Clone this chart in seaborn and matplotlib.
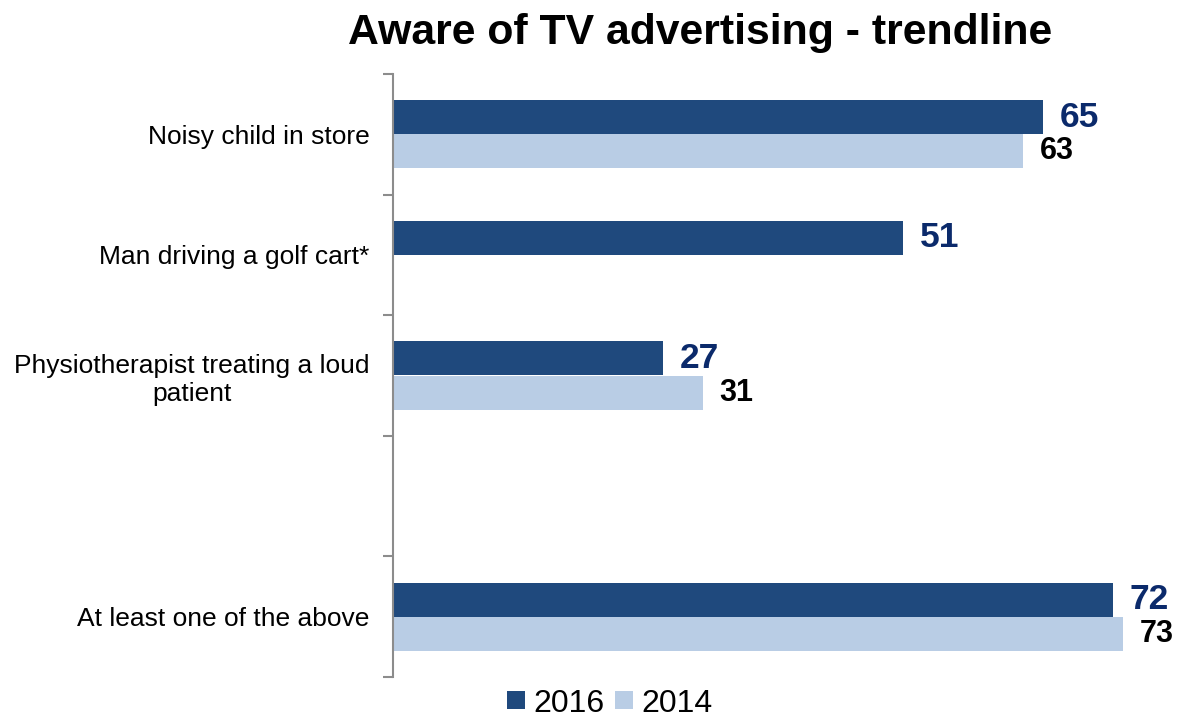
import matplotlib
matplotlib.use("Agg")
import matplotlib.pyplot as plt
from matplotlib.lines import Line2D
import numpy as np
import pandas as pd
import seaborn as sns

# Survey results (% aware)
categories = ["Noisy child in store", "Man driving a golf cart*",
              "Physiotherapist treating a loud\npatient", " ",
              "At least one of the above"]
years = ["2016", "2014"]
values_2016 = [65, 51, 27, None, 72]
values_2014 = [63, None, 31, None, 73]

colors = {"2016": "#1F497D", "2014": "#B9CDE5"}
label_colors = {"2016": "#0B2A6B", "2014": "#000000"}
label_sizes = {"2016": 25.5, "2014": 22}

rows = []
for cat, v16, v14 in zip(categories, values_2016, values_2014):
    if v16 is not None:
        rows.append({"category": cat, "year": "2016", "value": v16})
    if v14 is not None:
        rows.append({"category": cat, "year": "2014", "value": v14})
df = pd.DataFrame(rows)

sns.set_theme(style="white")
plt.rcParams["font.family"] = ["Liberation Sans", "DejaVu Sans"]
plt.rcParams["text.color"] = "black"
plt.rcParams["ytick.labelcolor"] = "black"

fig = plt.figure(figsize=(11.81, 7.22), dpi=100)
ax = fig.add_axes([393 / 1181, 1 - 677 / 722, 780 / 1181, (677 - 74) / 722])

sns.barplot(data=df, y="category", x="value", hue="year", order=categories,
            hue_order=years, palette=colors, orient="h", width=0.565,
            saturation=1, linewidth=0, errorbar=None, legend=False, ax=ax)

ax.set_xlim(0, 78)
ax.set_ylim(len(categories) - 0.5, -0.5)
ax.set_xlabel("")
ax.set_ylabel("")
ax.set_xticks([])

# Value labels at the end of each bar
for container, year in zip(ax.containers, years):
    vals = [b.get_width() for b in container]
    labels = [f"{v:.0f}" if np.isfinite(v) and v > 0 else "" for v in vals]
    ax.bar_label(container, labels=labels, padding=12, fontsize=label_sizes[year],
                 fontweight="bold", color=label_colors[year])

# Spines: only the left axis line
for side in ["top", "right", "bottom"]:
    ax.spines[side].set_visible(False)
ax.spines["left"].set_color("#8C8C8C")
ax.spines["left"].set_linewidth(1.5)

# Tick marks between categories, labels centered on categories
ax.set_yticks(range(len(categories)))
ax.set_yticklabels(categories, fontsize=19, multialignment="center",
                   color="black", linespacing=1.2)
ax.tick_params(axis="y", which="major", length=0, pad=17)
ax.set_yticks(np.arange(-0.5, len(categories)), minor=True)
ax.tick_params(axis="y", which="minor", left=True, length=7, width=1.5,
               color="#8C8C8C", direction="out")

fig.suptitle("Aware of TV advertising - trendline", x=0.593, y=0.982,
             fontsize=30.8, fontweight="bold", color="black")

handles = [Line2D([0], [0], marker="s", linestyle="", markersize=13,
                  markerfacecolor=colors[y], markeredgewidth=0) for y in years]
fig.legend(handles, years, loc="lower center", bbox_to_anchor=(0.516, -0.035),
           ncol=2, frameon=False, fontsize=23, handlelength=0.6,
           handletextpad=0.25, columnspacing=0.3, labelcolor="black")

fig.savefig("out.png", dpi=100)
